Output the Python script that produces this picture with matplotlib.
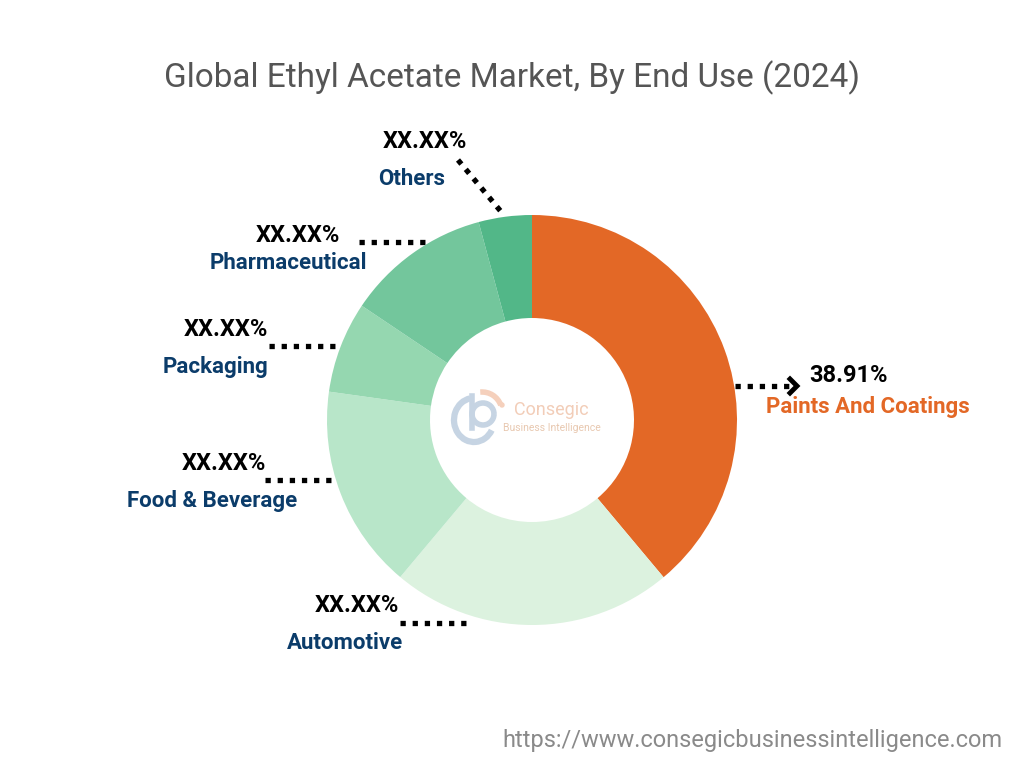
import matplotlib.pyplot as plt
from matplotlib.patches import Arc, Circle

plt.rcParams["font.family"] = ["Roboto", "DejaVu Sans"]

segments = ["Paints And Coatings", "Automotive", "Food & Beverage", "Packaging", "Pharmaceutical", "Others"]
shares = [38.91, 22.2, 16.1, 7.2, 11.4, 4.19]
value_labels = ["38.91%", "XX.XX%", "XX.XX%", "XX.XX%", "XX.XX%", "XX.XX%"]
colors = ["#E36826", "#DCF2DF", "#B8E6C9", "#95D7B0", "#73C69C", "#52B788"]

W, H = 1024, 768
CX, CY = 532, 420
R_OUT, R_IN = 205, 102

# label layout in pixel coords (y from top): value text, name text, leader start/end
layout = {
    "Paints And Coatings": dict(val=(849, 376), name=(868, 407), line=((735, 386), (795, 386))),
    "Automotive": dict(val=(357, 605), name=(345, 643), line=((400, 623), (468, 623))),
    "Food & Beverage": dict(val=(224, 463), name=(212, 501), line=((265, 480), (336, 480))),
    "Packaging": dict(val=(226, 329), name=(215, 367), line=((269, 346), (339, 346))),
    "Pharmaceutical": dict(val=(298, 235), name=(288, 263), line=((359, 242), (430, 242))),
    "Others": dict(val=(425, 142), name=(412, 179), line=((458, 160), (503, 214))),
}

fig = plt.figure(figsize=(W / 100, H / 100), dpi=100)
ax = fig.add_axes([0, 0, 1, 1])
ax.set_xlim(0, W)
ax.set_ylim(H, 0)
ax.axis("off")

# pie drawn on a separate axes with y up so wedges go clockwise as in the reference
pax = fig.add_axes([0, 0, 1, 1])
pax.pie(shares, colors=colors, startangle=90, counterclock=False,
        center=(CX, H - CY), radius=R_OUT,
        wedgeprops=dict(width=R_OUT - R_IN, linewidth=0))
pax.set_xlim(0, W)
pax.set_ylim(0, H)
pax.set_aspect("equal")
pax.axis("off")

# faint logo in the hole
logo_blue = "#C6D4E3"
logo_orange = "#F5D0BC"
pax.add_patch(Arc((474, H - 420), 40, 44, theta1=100, theta2=330, color=logo_blue, lw=4.5))
pax.add_patch(Arc((483, H - 414), 22, 22, theta1=0, theta2=360, color=logo_blue, lw=4))
pax.plot([472, 472], [H - 396, H - 428], color=logo_blue, lw=4)
pax.add_patch(Arc((482, H - 412), 40, 40, theta1=20, theta2=95, color=logo_orange, lw=4))
pax.add_patch(Circle((502, H - 405), 2, color=logo_orange))
ax.text(514, 410, "Consegic", fontsize=13, color="#F2CDB8", va="center", ha="left")
ax.text(503, 428, "Business Intelligence", fontsize=7.5, color="#E8C8B0", va="center", ha="left")

ax.text(512, 78, "Global Ethyl Acetate Market, By End Use (2024)", fontsize=24,
        color="#555555", ha="center", va="center")

dot_style = dict(color="black", lw=3.8, linestyle=(0, (1, 1.3)), dash_capstyle="butt")
for seg, val in zip(segments, value_labels):
    lay = layout[seg]
    (x0, y0), (x1, y1) = lay["line"]
    ax.plot([x0, x1], [y0, y1], **dot_style)
    name_color = "#E36826" if seg == "Paints And Coatings" else "#0B3C6A"
    ax.text(*lay["val"], val, fontsize=17, fontweight="bold", color="black",
            ha="center", va="center")
    ax.text(*lay["name"], seg, fontsize=16, fontweight="bold", color=name_color,
            ha="center", va="center")

# arrow head on the main slice leader
ax.plot([790, 797, 790], [379, 386, 393], color="black", lw=3.5, solid_joinstyle="miter")

ax.text(1003, 740, "https://www.consegicbusinessintelligence.com", fontsize=17,
        color="#8A8A8A", ha="right", va="center")

fig.savefig("out.png", dpi=100)
